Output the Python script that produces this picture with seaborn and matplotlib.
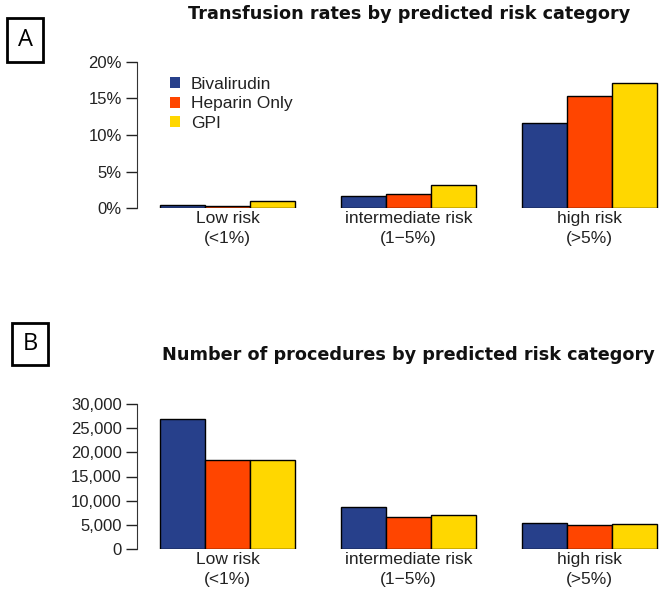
import pandas as pd
import matplotlib.pyplot as plt
import matplotlib.patches as mpatches
import seaborn as sns

# === Datos ===
CATEGORIAS = ["Low risk\n(<1%)", "intermediate risk\n(1\u22125%)", "high risk\n(>5%)"]
GRUPOS = ["Bivalirudin", "Heparin Only", "GPI"]

transf_biv = [0.4, 1.7, 11.6]
transf_hep = [0.3, 1.9, 15.3]
transf_gpi = [0.9, 3.1, 17.1]

proc_biv = [27000, 8600, 5300]
proc_hep = [18350, 6600, 4950]
proc_gpi = [18350, 7000, 5250]

TICKS_A = [0, 5, 10, 15, 20]
TICK_LABELS_A = ["0%", "5%", "10%", "15%", "20%"]
TICKS_B = [0, 5000, 10000, 15000, 20000, 25000, 30000]
TICK_LABELS_B = ["0", "5,000", "10,000", "15,000", "20,000", "25,000", "30,000"]

PALETA = {"Bivalirudin": "#27408B", "Heparin Only": "#FF4500", "GPI": "#FFD700"}


def to_long(biv, hep, gpi):
    rows = []
    for grupo, vals in zip(GRUPOS, [biv, hep, gpi]):
        for cat, v in zip(CATEGORIAS, vals):
            rows.append({"riesgo": cat, "grupo": grupo, "valor": v})
    return pd.DataFrame(rows)


df_a = to_long(transf_biv, transf_hep, transf_gpi)
df_b = to_long(proc_biv, proc_hep, proc_gpi)

sns.set_style("white")
plt.rcParams["font.family"] = ["Liberation Sans", "DejaVu Sans"]
TXT = "#222222"

fig = plt.figure(figsize=(6.62, 5.95), dpi=100)
W, H = 662, 595


def add_axes_px(left, top, right, bottom):
    return fig.add_axes([left / W, 1 - bottom / H, (right - left) / W, (bottom - top) / H])


ax_a = add_axes_px(137, 62, 662, 208)
ax_b = add_axes_px(137, 404, 662, 549)


def draw(ax, df, ymax, ticks, labels):
    sns.barplot(
        data=df, x="riesgo", y="valor", hue="grupo",
        order=CATEGORIAS, hue_order=GRUPOS, palette=PALETA, saturation=1,
        width=0.75, gap=0, edgecolor="black", linewidth=1,
        legend=False, ax=ax,
    )
    ax.set_xlim(-0.5, 2.4)
    ax.set_ylim(0, ymax)
    ax.set_xlabel("")
    ax.set_ylabel("")
    ax.set_yticks(ticks)
    ax.set_yticklabels(labels, fontsize=12, color=TXT)
    ax.tick_params(axis="y", length=8, width=1, pad=3, colors=TXT, direction="out", left=True)
    ax.tick_params(axis="x", length=0, pad=2, labelsize=12.5, labelcolor=TXT)
    for s in ["top", "right", "bottom"]:
        ax.spines[s].set_visible(False)
    ax.spines["left"].set_bounds(0, ymax)
    ax.spines["left"].set_color("#333333")
    ax.patch.set_alpha(0)


draw(ax_a, df_a, 20, TICKS_A, TICK_LABELS_A)
draw(ax_b, df_b, 30000, TICKS_B, TICK_LABELS_B)

for lbl in ax_a.get_xticklabels() + ax_b.get_xticklabels():
    lbl.set_linespacing(1.4)

# Leyenda
handles = [mpatches.Patch(facecolor=PALETA[g], edgecolor="none", label=g) for g in GRUPOS]
ax_a.legend(
    handles=handles, loc="upper left", bbox_to_anchor=(163 / W, 1 - 70 / H),
    bbox_transform=fig.transFigure, frameon=False, fontsize=12.5,
    handlelength=0.6, handleheight=0.6, handletextpad=0.6, labelspacing=0.25,
    labelcolor=TXT, borderaxespad=0,
)

# Títulos
fig.text(409 / W, 1 - 14 / H, "Transfusion rates by predicted risk category",
         ha="center", va="center", fontsize=12.7, weight="bold", color="#111111",
         family=["DejaVu Sans"])
fig.text(408 / W, 1 - 355 / H, "Number of procedures by predicted risk category",
         ha="center", va="center", fontsize=12.7, weight="bold", color="#111111",
         family=["DejaVu Sans"])

# Cajas A / B
for letra, (x0, y0, x1, y1) in [("A", (7, 18, 43, 62)), ("B", (12, 323, 48, 365))]:
    rect = mpatches.Rectangle((x0 / W, 1 - y1 / H), (x1 - x0) / W, (y1 - y0) / H,
                              transform=fig.transFigure, fill=False,
                              edgecolor="black", linewidth=2)
    fig.add_artist(rect)
    fig.text((x0 + x1) / 2 / W, 1 - (y0 + y1) / 2 / H, letra,
             ha="center", va="center", fontsize=17, color="black",
             family=["Open Sans", "DejaVu Sans"])

fig.savefig("out.png", dpi=100)
plt.close(fig)
